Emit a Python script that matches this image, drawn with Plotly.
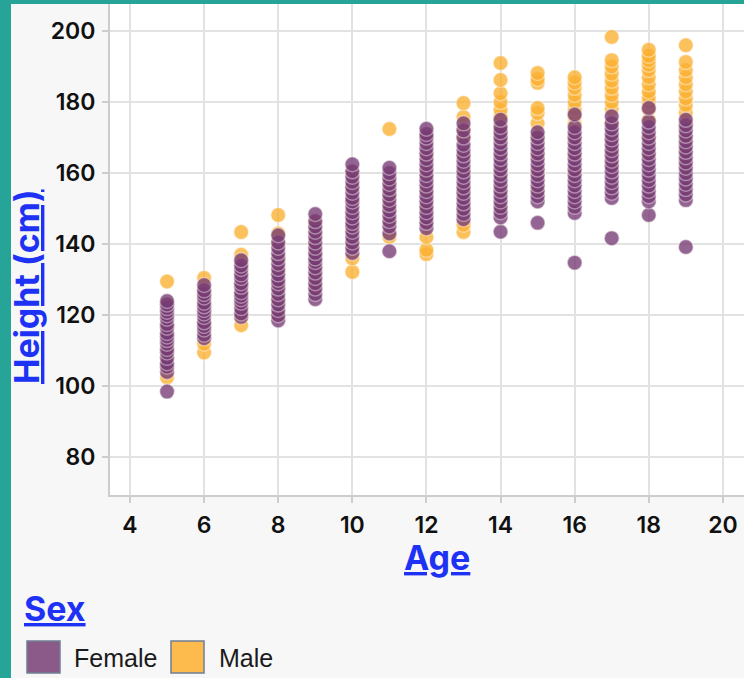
import plotly.graph_objects as go

ages = [5, 6, 7, 8, 9, 10, 11, 12, 13, 14, 15, 16, 17, 18, 19]

female_heights = [
    [98.5, 104, 105.5, 106.5, 108, 109.5, 110.5, 112, 113, 114, 115, 116.5, 117.5, 119, 120, 121, 122, 123, 124],
    [113.5, 114.5, 116, 117, 118, 119.5, 120.5, 121.5, 122.5, 123.5, 125, 126, 127, 128.5],
    [119.5, 120.5, 122, 123.5, 124.5, 125.5, 126.5, 128, 129, 130.5, 131.5, 133, 134, 135.5],
    [118.5, 120, 121.5, 123, 124.5, 126, 127.5, 129, 130, 131.5, 133, 134.5, 136, 137.5, 139, 140.5, 142.5],
    [124.5, 126, 127.5, 129, 130.5, 132, 133.5, 135, 136, 137.5, 139, 140.5, 142, 143.5, 145, 146.5, 148.5],
    [137.5, 139, 140.5, 142, 143.5, 145, 146, 147.5, 149, 150.5, 152, 153, 154.5, 156, 157.5, 159, 160.5, 162.5],
    [138, 143, 145, 146.5, 148, 149.5, 151, 152.5, 154, 155.5, 157, 158.5, 160, 161.5],
    [144.5, 146, 147.5, 149, 150.5, 152, 153.5, 155, 156.5, 158, 159.5, 161, 162.5, 164, 165.5, 167, 168.5, 170, 171, 172.5],
    [147, 148.5, 150, 151.5, 153, 154.5, 156, 157.5, 159, 160.5, 162, 163.5, 165, 166.5, 168, 170, 172, 174],
    [143.5, 147.5, 149, 150.5, 152, 153.5, 155, 156.5, 158, 159.5, 161, 162.5, 164, 165.5, 167, 168.5, 170, 171.5, 173, 175],
    [146, 152, 153.5, 155, 156.5, 158, 159.5, 161, 162.5, 164, 165.5, 167, 168.5, 170, 171.5],
    [134.8, 148.8, 150.5, 152, 153.5, 155, 156.5, 158, 159.5, 161, 162.5, 164, 165.5, 167, 168.5, 170, 171.5, 173, 176.5],
    [141.7, 153, 154.5, 156, 157.5, 159, 160.5, 162, 163.5, 165, 166.5, 168, 169.5, 171, 172.5, 174, 176],
    [148.2, 152, 153.5, 155, 156.5, 158, 159.5, 161, 162.5, 164, 165.5, 167, 168.5, 170, 171.5, 173, 174.5, 178.3],
    [139.2, 152.4, 154, 155.5, 157, 158.5, 160, 161.5, 163, 164.5, 166, 167.5, 169, 170.5, 172, 173.5, 175],
]

male_heights = [
    [102.5, 105, 108, 111, 114, 117, 120, 123, 129.5],
    [109.5, 112, 115, 118, 121, 124, 127, 130.5],
    [117.2, 120, 123, 126, 129, 132, 135, 137, 143.4],
    [120, 124, 128, 132, 136, 140, 143, 148.2],
    [128, 131, 134, 137, 140, 143, 146],
    [132.2, 136, 140, 144, 148, 152, 156, 160],
    [142, 146, 150, 153.5, 157, 172.4],
    [137.2, 138.4, 142, 146, 150, 155, 160, 165, 170],
    [143.4, 145.5, 150, 155, 160, 165, 169.9, 172.5, 175.8, 179.7],
    [150, 155, 160, 165, 170, 172, 174, 176, 177.8, 180, 182.5, 186.2, 191],
    [155, 160, 165, 170, 174, 176.9, 178.3, 185.4, 186.5, 188.2],
    [160, 165, 170, 174, 176, 178, 180, 182, 184, 185.5, 187],
    [162, 166, 170, 174, 178, 180, 182, 184, 186, 188, 190, 191.8, 198.3],
    [165, 170, 175, 178, 180, 181.4, 183, 185, 187, 189, 190.5, 191.8, 193, 194.7],
    [162, 166, 170, 174, 177, 179.2, 181, 183, 185, 187, 189, 191.3, 196],
]

sex_labels = ["Female", "Male"]
sex_colors = ["#773b74", "#fbb030"]
swatch_colors = ["#8c5a89", "#fcbb4c"]

x_ticks = [4, 6, 8, 10, 12, 14, 16, 18, 20]
y_ticks = [80, 100, 120, 140, 160, 180, 200]

# ---- geometry (pixels) ----
W, H = 744, 678
ML, MR, MT, MB = 110, 0, 4, 183
PW = W - ML - MR
PH = H - MT - MB


def px(xp):
    return (xp - ML) / PW


def py(yp):
    return (H - MB - yp) / PH


def flatten(groups):
    xs, ys = [], []
    for a, hs in zip(ages, groups):
        for h in hs:
            xs.append(a)
            ys.append(h)
    return xs, ys


fig = go.Figure()
for label, color, groups in [("Male", sex_colors[1], male_heights),
                             ("Female", sex_colors[0], female_heights)]:
    xs, ys = flatten(groups)
    fig.add_trace(go.Scatter(
        x=xs, y=ys, mode="markers", name=label, showlegend=False,
        marker=dict(size=15, color=color, opacity=0.78,
                    line=dict(width=1.5, color="rgba(255,255,255,0.5)")),
        hoverinfo="x+y+name",
    ))

tick_font = dict(family="Inter", size=23, color="#111111", weight=600)
title_font = dict(family="Inter", size=34, color="#1e32f5", weight=700)
axis_col = "#cdcdcd"
grid_col = "#e2e2e2"

fig.update_xaxes(
    range=[3.46, 20.57], tickvals=x_ticks, showgrid=True, gridcolor=grid_col, gridwidth=2,
    showline=True, linecolor=axis_col, linewidth=2, zeroline=False,
    ticks="outside", ticklen=6, tickwidth=2, tickcolor=axis_col,
    tickfont=tick_font, ticklabelstandoff=2,
)
fig.update_yaxes(
    range=[69.4, 207.6], tickvals=y_ticks, showgrid=True, gridcolor=grid_col, gridwidth=2,
    showline=True, linecolor=axis_col, linewidth=2, zeroline=False,
    ticks="outside", ticklen=6, tickwidth=2, tickcolor=axis_col,
    tickfont=tick_font, ticklabelstandoff=2,
)

annotations = [
    dict(text="<u>Age</u>", x=px(437), y=py(557), xref="paper", yref="paper",
         xanchor="center", yanchor="middle", showarrow=False, font=title_font),
    dict(text="<u>Height (cm)</u>", x=px(27), y=py(287), xref="paper", yref="paper",
         xanchor="center", yanchor="middle", showarrow=False, textangle=-90, font=title_font),
    dict(text="<u>Sex</u>", x=px(22), y=py(608), xref="paper", yref="paper",
         xanchor="left", yanchor="middle", showarrow=False, font=title_font),
]
shapes = []
swatch_x = [27, 171]
label_x = [72, 217]
for i, lab in enumerate(sex_labels):
    shapes.append(dict(type="rect", xref="paper", yref="paper",
                       x0=px(swatch_x[i]), x1=px(swatch_x[i] + 33), y0=py(673), y1=py(641),
                       fillcolor=swatch_colors[i], line=dict(color="#6f7f95", width=1.5)))
    annotations.append(dict(text=lab, x=px(label_x[i]), y=py(658), xref="paper", yref="paper",
                            xanchor="left", yanchor="middle", showarrow=False,
                            font=dict(family="Liberation Sans", size=25, color="#1a1a1a")))

teal = "#25a497"
shapes.append(dict(type="rect", xref="paper", yref="paper", layer="above",
                   x0=px(-5), x1=px(11), y0=py(H + 5), y1=py(-5),
                   fillcolor=teal, line=dict(width=0)))
shapes.append(dict(type="rect", xref="paper", yref="paper", layer="above",
                   x0=px(-5), x1=px(W + 5), y0=py(4), y1=py(-5),
                   fillcolor=teal, line=dict(width=0)))

fig.update_layout(
    width=W, height=H, margin=dict(l=ML, r=MR, t=MT, b=MB, pad=0),
    paper_bgcolor="#f7f7f7", plot_bgcolor="#ffffff",
    showlegend=False, annotations=annotations, shapes=shapes,
)

fig.write_html("out.html", config={"displayModeBar": False},
               post_script="document.body.style.margin='0';")
